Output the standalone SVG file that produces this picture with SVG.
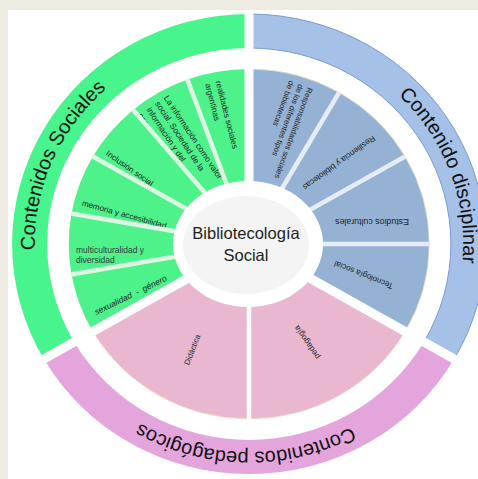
<svg xmlns="http://www.w3.org/2000/svg" width="478" height="479" viewBox="0 0 478 479">
<style>
.t{font-family:"Liberation Sans",Arial,sans-serif;fill:#1e1e1e}
.big{font-size:20px;fill:#111}
.s{font-size:8.2px}
.ringG{fill:#48f48c}
.ringB{fill:#a6c1e7;stroke:#7b9bd3;stroke-width:1}
.ringP{fill:#e4a4dc}
.segG{fill:#4ef28b}
.segB{fill:#95b1d4;stroke:#efe6bb;stroke-width:0.7}
.segP{fill:#eab7d1;stroke:#f3e4bb;stroke-width:0.7}
.gapMajor{stroke:#fff;stroke-width:9}
.gapG{stroke:#dcf6e3;stroke-width:4.5}
.gapB{stroke:#e6ecf4;stroke-width:4.5}
.gapP{stroke:#fff;stroke-width:4.5}
</style>
<defs>
<path id="arcG" d="M 67.32 354.22 A 214.24 208 0 0 1 204.46 40.54"/>
<path id="arcB" d="M 304.45 43.09 A 214.24 208 0 0 1 424.49 363.30"/>
<path id="arcP" d="M 424.49 363.30 A 214.24 208 0 0 1 69.32 357.28"/>
</defs>
<rect width="478" height="479" fill="#eeebe2"/>
<rect x="8" y="10" width="470" height="469" fill="#ffffff"/>

<g id="ring-sociales">
<path class="ringG" d="M 43.83 359 A 236.9 230 0 0 1 249 14 L 249 48 A 201.88 196 0 0 0 74.17 342 Z"/>
<text class="t big"><textPath href="#arcG" startOffset="50%" text-anchor="middle">Contenidos Sociales</textPath></text>
</g>
<g id="ring-disciplinar">
<path class="ringB" d="M 249 14 A 236.9 230 0 0 1 454.17 359 L 423.83 342 A 201.88 196 0 0 0 249 48 Z"/>
<text class="t big"><textPath href="#arcB" startOffset="50%" text-anchor="middle">Contenido disciplinar</textPath></text>
</g>
<g id="ring-pedagogicos">
<path class="ringP" d="M 454.17 359 A 236.9 230 0 0 1 43.83 359 L 74.17 342 A 201.88 196 0 0 0 423.83 342 Z"/>
<text class="t big"><textPath href="#arcP" startOffset="50%" text-anchor="middle">Contenidos pedagógicos</textPath></text>
</g>

<g id="seg-realidades">
<path class="segG" d="M 249 244 L 187.35 79.55 A 180.25 175 0 0 1 249 69 Z"/>
<text class="t s" transform="translate(215.6 81.6) rotate(75.8)"><tspan x="0" y="0">realidades sociales</tspan><tspan x="0" y="10.7">argentinas</tspan></text>
</g>
<g id="seg-informacion">
<path class="segG" d="M 249 244 L 133.14 109.94 A 180.25 175 0 0 1 187.35 79.55 Z"/>
<text class="t" font-size="8.4" transform="translate(163.6 98) rotate(56.3)"><tspan x="0" y="0">La información como valor</tspan><tspan x="0" y="10.5">social. Sociedad de la</tspan><tspan x="0" y="21">información y del</tspan><tspan x="0" y="31.5">conocimiento</tspan></text>
</g>
<g id="seg-inclusion">
<path class="segG" d="M 249 244 L 92.90 156.5 A 180.25 175 0 0 1 133.14 109.94 Z"/>
<text class="t s" text-anchor="middle" transform="translate(128.1 170.5) rotate(35)">Inclusión social</text>
</g>
<g id="seg-memoria">
<path class="segG" d="M 249 244 L 71.49 213.61 A 180.25 175 0 0 1 92.90 156.5 Z"/>
<text class="t s" text-anchor="middle" transform="translate(123.5 217) rotate(15.4)">memoria y accesibilidad</text>
</g>
<g id="seg-multiculturalidad">
<path class="segG" d="M 249 244 L 71.49 274.39 A 180.25 175 0 0 1 71.49 213.61 Z"/>
<text class="t" font-size="8.5" style="fill:#3a3a3a" transform="translate(76 252.5)"><tspan x="0" y="0">multiculturalidad y</tspan><tspan x="0" y="10">diversidad</tspan></text>
</g>
<g id="seg-sexualidad">
<path class="segG" d="M 249 244 L 92.90 331.5 A 180.25 175 0 0 1 71.49 274.39 Z"/>
<text class="t" font-size="8.5" font-style="italic" text-anchor="middle" style="white-space:pre" transform="translate(131.9 297.7) rotate(-26)">sexualidad  -  género</text>
</g>

<g id="seg-responsabilidades">
<path class="segB" d="M 249 244 L 249 69 A 180.25 175 0 0 1 339.13 92.45 Z"/>
<text class="t" font-size="7.8" transform="translate(307.7 87.1) rotate(110.3)"><tspan x="0" y="0">Responsabilidades sociales</tspan><tspan x="0" y="9.8">de los diferentes tipos</tspan><tspan x="0" y="19.6">de bibliotecas</tspan></text>
</g>
<g id="seg-resiliencia">
<path class="segB" d="M 249 244 L 339.13 92.45 A 180.25 175 0 0 1 405.10 156.5 Z"/>
<text class="t s" text-anchor="middle" transform="translate(337.4 160.5) rotate(144.3)">Resiliencia y bibliotecas</text>
</g>
<g id="seg-estudios">
<path class="segB" d="M 249 244 L 405.10 156.5 A 180.25 175 0 0 1 429.25 244 Z"/>
<text class="t" font-size="8.8" text-anchor="middle" transform="translate(372 219.2) rotate(180)">Estudios culturales</text>
</g>
<g id="seg-tecnologia">
<path class="segB" d="M 249 244 L 429.25 244 A 180.25 175 0 0 1 405.10 331.5 Z"/>
<text class="t s" text-anchor="middle" transform="translate(364.7 272.4) rotate(201.8)">Tecnología social</text>
</g>

<g id="seg-pedagogia">
<path class="segP" d="M 249 244 L 405.10 331.5 A 180.25 175 0 0 1 249 419 Z"/>
<text class="t s" text-anchor="middle" transform="translate(309.2 340.8) rotate(235.6)">pedagogía</text>
</g>
<g id="seg-didactica">
<path class="segP" d="M 249 244 L 249 419 A 180.25 175 0 0 1 92.90 331.5 Z"/>
<text class="t" font-size="7.8" text-anchor="middle" transform="translate(194.8 350.6) rotate(-68.9)">Didáctica</text>
</g>

<g id="separators">
<line class="gapG" x1="249" y1="244" x2="70.99" y2="274.48"/>
<line class="gapG" x1="249" y1="244" x2="70.99" y2="213.52"/>
<line class="gapG" x1="249" y1="244" x2="92.46" y2="156.25"/>
<line class="gapG" x1="249" y1="244" x2="132.81" y2="109.56"/>
<line class="gapG" x1="249" y1="244" x2="187.18" y2="79.09"/>
<line class="gapB" x1="249" y1="244" x2="339.38" y2="92.02"/>
<line class="gapB" x1="249" y1="244" x2="405.54" y2="156.25"/>
<line class="gapB" x1="249" y1="244" x2="429.77" y2="244"/>
<line class="gapP" x1="249" y1="244" x2="249" y2="419.5"/>
<line class="gapMajor" x1="249" y1="244" x2="30.4" y2="366.5"/>
<line class="gapMajor" x1="249" y1="244" x2="467.6" y2="366.5"/>
<line class="gapMajor" x1="249" y1="244" x2="249" y2="12"/>
<ellipse cx="248" cy="244" rx="75" ry="63" fill="#ffffff"/>
</g>

<g id="center">
<ellipse cx="246" cy="245" rx="63" ry="49" fill="#f4f4f4"/>
<text class="t" font-size="16.5" text-anchor="middle" fill="#1a1a1a"><tspan x="246" y="239">Bibliotecología</tspan><tspan x="246" y="261">Social</tspan></text>
</g>
</svg>
